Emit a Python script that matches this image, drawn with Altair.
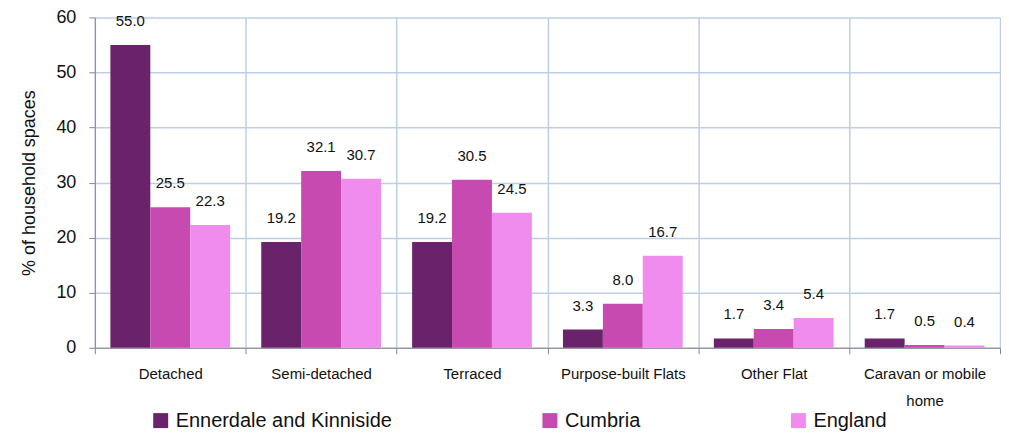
import altair as alt
import pandas as pd

categories = ["Detached", "Semi-detached", "Terraced", "Purpose-built Flats", "Other Flat", "Caravan or mobile home"]
series = ["Ennerdale and Kinniside", "Cumbria", "England"]
ennerdale = [55.0, 19.2, 19.2, 3.3, 1.7, 1.7]
cumbria = [25.5, 32.1, 30.5, 8.0, 3.4, 0.5]
england = [22.3, 30.7, 24.5, 16.7, 5.4, 0.4]
colors = ["#6A236A", "#C74AB0", "#F08CEE"]

rows = []
for s, vals in zip(series, [ennerdale, cumbria, england]):
    for c, v in zip(categories, vals):
        rows.append({"category": c, "series": s, "value": v})
df = pd.DataFrame(rows)

FONT = "Liberation Sans"
GRID = "#BDCFE6"

x = alt.X("category:N", sort=categories, title=None,
          scale=alt.Scale(paddingInner=0, paddingOuter=0),
          axis=alt.Axis(grid=True, gridColor=GRID, gridWidth=1.5, tickBand="extent",
                        domainColor="#888888", tickColor="#888888", tickSize=6,
                        labelAngle=0, labelFontSize=15, labelFont=FONT, labelColor="#111111",
                        labelPadding=13, labelLineHeight=27,
                        labelExpr="datum.label == 'Caravan or mobile home' ? ['Caravan or mobile', 'home'] : datum.label"))
xo = alt.XOffset("series:N", sort=series, scale=alt.Scale(paddingOuter=0.39, paddingInner=0))
y = alt.Y("value:Q", title="% of household spaces",
          scale=alt.Scale(domain=[0, 60], nice=False),
          axis=alt.Axis(values=[0, 10, 20, 30, 40, 50, 60], grid=True, gridColor=GRID, gridWidth=1.5,
                        domainColor="#888888", tickColor="#888888", tickSize=6,
                        labelFontSize=18, labelFont=FONT, labelColor="#111111", labelPadding=13,
                        titleFontSize=18, titleFont=FONT, titleFontWeight="normal", titleColor="#111111",
                        titlePadding=17))

color = alt.Color("series:N", sort=series, scale=alt.Scale(domain=series, range=colors),
                  legend=alt.Legend(title=None, orient="none", legendX=56, legendY=394,
                                    direction="horizontal", columnPadding=148,
                                    symbolType="square", symbolSize=225, symbolStrokeWidth=0,
                                    labelFontSize=20, labelFont=FONT, labelColor="#111111",
                                    labelOffset=5, labelLimit=400))

bars = alt.Chart(df).mark_bar(stroke=None).encode(x=x, xOffset=xo, y=y, color=color)
labels = alt.Chart(df).mark_text(baseline="bottom", dy=-16, fontSize=15, font=FONT, color="#111111").encode(
    x=alt.X("category:N", sort=categories), xOffset=xo, y="value:Q",
    text=alt.Text("value:Q", format=".1f"))

chart = alt.layer(bars, labels).properties(width=907, height=331, padding={"left": 12, "top": 0, "right": 0, "bottom": 0}).configure_view(strokeWidth=0)

chart.save("out.html", embed_options={"renderer": "svg", "actions": False})
